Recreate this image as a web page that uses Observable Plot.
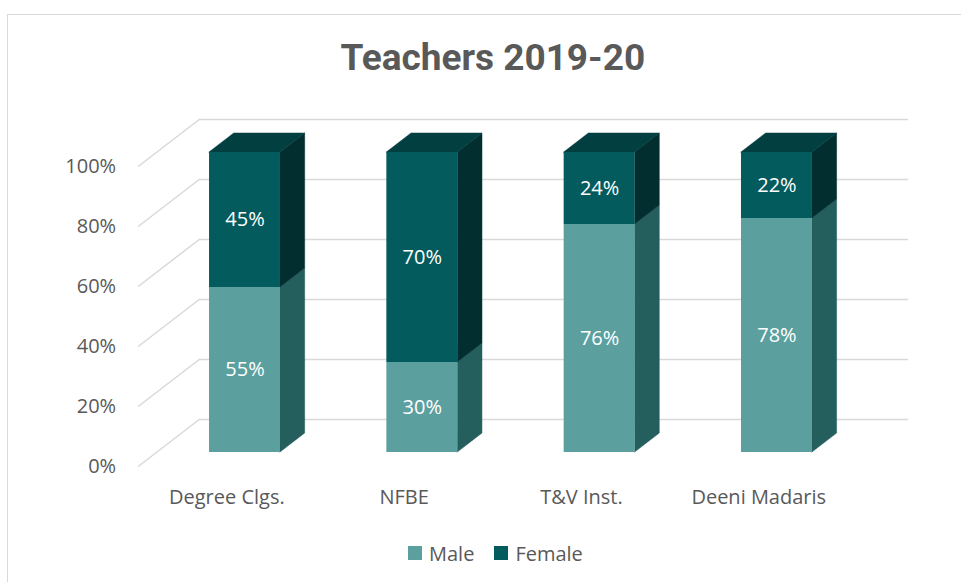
<!DOCTYPE html>
<html>
<head>
<meta charset="utf-8">
<script src="https://cdn.jsdelivr.net/npm/d3@7"></script>
<script src="https://cdn.jsdelivr.net/npm/@observablehq/plot@0.6"></script>
<style>
  html, body { margin: 0; padding: 0; background: white; }
  #wrap { position: relative; width: 961px; height: 582px; overflow: hidden; font-family: "Open Sans", sans-serif; }
  #border { position: absolute; left: 7px; top: 14px; width: 980px; height: 600px;
            border-left: 1.5px solid #d9d9d9; border-top: 1.5px solid #d9d9d9; pointer-events: none; }
  #legend { height: 42px; display: flex; align-items: center; padding-left: 408px;
            font-size: 20px; color: #595959; }
  .item { display: flex; align-items: center; margin-right: 20px; }
  .sw { width: 14px; height: 14px; margin-right: 7px; }
</style>
</head>
<body>
<div id="wrap">
  <div id="chart"></div>
  <div id="legend"></div>
  <div id="border"></div>
</div>
<script>
// ---- data ----
const title = "Teachers 2019-20";
const categories = ["Degree Clgs.", "NFBE", "T&V Inst.", "Deeni Madaris"];
const series = ["Male", "Female"];
const male = [55, 30, 76, 78];
const female = [45, 70, 24, 22];
const yTicks = [0, 20, 40, 60, 80, 100];

// ---- styling ----
const frontColor = { Male: "#5BA09F", Female: "#035B5E" };
const sideColor = { Male: "#245F5E", Female: "#022E30" };
const topColor = "#023F40";
const gridColor = "#d9d9d9";
const textColor = "#595959";

// ---- pseudo-3D projection ----
const xDomain = [-0.5, 3.5], xRange = [137.65, 846.9];
const yDomain = [0, 100], yRange = [466, 166];
const pxPerX = (xRange[1] - xRange[0]) / (xDomain[1] - xDomain[0]);
const pxPerY = (yRange[0] - yRange[1]) / (yDomain[1] - yDomain[0]);
const KX = 1.3;                 // horizontal shift per unit of depth
const D_FRONT = 14, D_BACK = 33, D_WALL = 47;  // depths
const HALF = 0.2;               // half bar width in category units
const ox = d => KX * d / pxPerX;
const oy = d => d / pxPerY;

const values = { Male: male, Female: female };
const segs = categories.flatMap((cat, i) => {
  let lo = 0;
  return series.map(s => {
    const v = values[s][i];
    const seg = { cat, i, series: s, v, lo, hi: lo + v };
    lo += v;
    return seg;
  });
});

const sidePts = segs.flatMap(s => [D_FRONT, D_BACK].map(d => ({
  key: s.cat + "|" + s.series, series: s.series,
  x: s.i + HALF + ox(d), y1: s.lo + oy(d), y2: s.hi + oy(d)
})));

const tops = categories.map((cat, i) => ({ cat, i, total: male[i] + female[i] }));
const topPts = tops.flatMap(t => [D_FRONT, D_BACK].map(d => ({
  key: t.cat, y: t.total + oy(d), x1: t.i - HALF + ox(d), x2: t.i + HALF + ox(d)
})));

const marks = [
  // side wall grid (diagonals)
  Plot.link(yTicks, {
    x1: () => xDomain[0], y1: d => d,
    x2: () => xDomain[0] + ox(D_WALL), y2: d => d + oy(D_WALL),
    stroke: gridColor, strokeWidth: 1.5
  }),
  // back wall grid
  Plot.ruleY(yTicks, {
    y: d => d + oy(D_WALL),
    x1: () => xDomain[0] + ox(D_WALL), x2: () => xDomain[1] + ox(D_WALL),
    stroke: gridColor, strokeWidth: 1.5
  }),
];

for (const s of series) {
  marks.push(Plot.areaY(sidePts.filter(p => p.series === s), {
    x: "x", y1: "y1", y2: "y2", z: "key", fill: sideColor[s], stroke: sideColor[s], strokeWidth: 0.5
  }));
}
marks.push(Plot.areaX(topPts, {
  y: "y", x1: "x1", x2: "x2", z: "key", fill: topColor, stroke: topColor, strokeWidth: 0.5
}));
for (const s of series) {
  marks.push(Plot.rect(segs.filter(d => d.series === s), {
    x1: d => d.i - HALF + ox(D_FRONT), x2: d => d.i + HALF + ox(D_FRONT),
    y1: d => d.lo + oy(D_FRONT), y2: d => d.hi + oy(D_FRONT),
    fill: frontColor[s]
  }));
}
// data labels
marks.push(Plot.text(segs, {
  x: d => d.i + ox(D_FRONT), y: d => (d.lo + d.hi) / 2 + oy(D_FRONT),
  text: d => d.v + "%", fill: "white", fontSize: 20, fontFamily: "Open Sans"
}));
// y tick labels
marks.push(Plot.text(yTicks, {
  x: () => xDomain[0], y: d => d, text: d => d + "%",
  textAnchor: "end", dx: -22, fill: textColor, fontSize: 20, fontFamily: "Open Sans"
}));
// category labels
marks.push(Plot.text(categories, {
  x: (d, i) => i, y: () => 0, text: d => d, dy: 31,
  fill: textColor, fontSize: 20, fontFamily: "Open Sans"
}));
// title
marks.push(Plot.text([title], {
  x: () => (xDomain[0] + xDomain[1]) / 2, frameAnchor: "top", lineAnchor: "middle", dy: 58,
  text: d => d, fill: textColor, fontSize: 37, fontWeight: "bold", fontFamily: "Roboto"
}));

const chart = Plot.plot({
  width: 961,
  height: 532,
  margin: 0,
  style: { fontFamily: "Open Sans", background: "white" },
  x: { type: "linear", domain: xDomain, range: xRange, axis: null },
  y: { type: "linear", domain: yDomain, range: yRange, axis: null },
  marks
});
document.getElementById("chart").appendChild(chart);

// legend
const legend = document.getElementById("legend");
for (const s of series) {
  const item = document.createElement("div");
  item.className = "item";
  const sw = document.createElement("div");
  sw.className = "sw";
  sw.style.background = frontColor[s];
  const label = document.createElement("span");
  label.textContent = s;
  item.appendChild(sw);
  item.appendChild(label);
  legend.appendChild(item);
}
</script>
</body>
</html>
